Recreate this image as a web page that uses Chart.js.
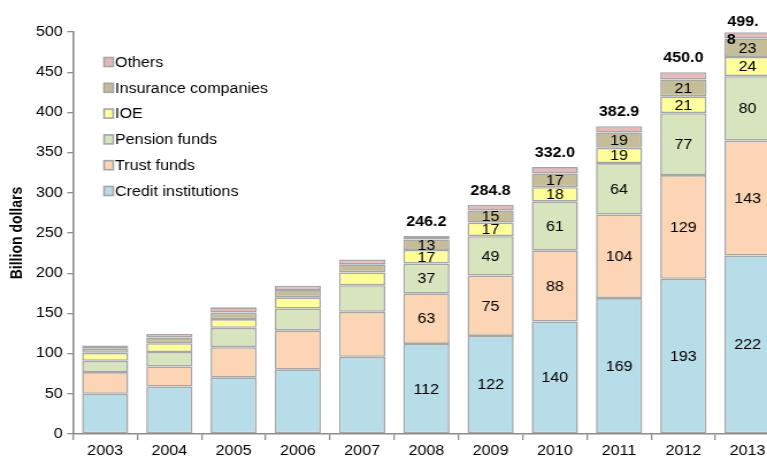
<!DOCTYPE html>
<html>
<head>
<meta charset="utf-8">
<script src="https://cdn.jsdelivr.net/npm/chart.js@4.4.1/dist/chart.umd.min.js"></script>
<style>
html,body{margin:0;padding:0;overflow:hidden;background:#fff;width:767px;height:460px;}
#wrap{position:absolute;left:0;top:0;width:683px;height:460px;transform:scaleX(1.15);transform-origin:0 0;}
</style>
</head>
<body>
<div id="wrap"><canvas id="c" width="683" height="460"></canvas></div>
<script>
const years = ['2003','2004','2005','2006','2007','2008','2009','2010','2011','2012','2013'];
const creditInstitutions = [50, 59, 70, 80, 96, 112, 122, 140, 169, 193, 222];
const trustFunds         = [27, 25, 38, 49, 56, 63, 75, 88, 104, 129, 143];
const pensionFunds       = [14, 18, 24, 27, 33, 37, 49, 61, 64, 77, 80];
const ioe                = [10, 11, 11, 14, 16, 17, 17, 18, 19, 21, 24];
const insuranceCompanies = [5, 7, 8, 9, 10, 13, 15, 17, 19, 21, 23];
const others             = [4, 4.5, 6.5, 5.5, 6, 4.2, 6.8, 8, 7.9, 9, 7.8];
const totalLabels        = ['', '', '', '', '', '246.2', '284.8', '332.0', '382.9', '450.0', '499.8'];
const labelFromIndex = 5;

const border = '#a6a6a6';
const datasets = [
  {label:'Credit institutions', data:creditInstitutions, backgroundColor:'#b7dde8', showValues:true},
  {label:'Trust funds', data:trustFunds, backgroundColor:'#fcd5b4', showValues:true},
  {label:'Pension funds', data:pensionFunds, backgroundColor:'#d7e4bd', showValues:true},
  {label:'IOE', data:ioe, backgroundColor:'#ffff99', showValues:true},
  {label:'Insurance companies', data:insuranceCompanies, backgroundColor:'#c4bd97', showValues:true},
  {label:'Others', data:others, backgroundColor:'#e6b9b8', showValues:false}
].map(d => Object.assign(d, {borderColor:border, borderWidth:1.6, borderSkipped:false, barPercentage:0.72, categoryPercentage:1.0}));

const FONT = '"Liberation Sans", Arial, sans-serif';

const valuePlugin = {
  id:'values',
  afterDatasetsDraw(chart){
    const ctx = chart.ctx;
    ctx.save();
    ctx.textAlign='center';
    ctx.textBaseline='middle';
    ctx.fillStyle='#000';
    ctx.font = '14px ' + FONT;
    chart.data.datasets.forEach((ds, i) => {
      if(!ds.showValues) return;
      const meta = chart.getDatasetMeta(i);
      meta.data.forEach((bar, j) => {
        if (j < labelFromIndex) return;
        const cy = (bar.y + bar.base)/2;
        ctx.fillText(String(Math.round(ds.data[j])), bar.x, cy + 1);
      });
    });
    ctx.font = 'bold 14px ' + FONT;
    const topMeta = chart.getDatasetMeta(chart.data.datasets.length-1);
    topMeta.data.forEach((bar, j) => {
      const t = totalLabels[j];
      if(!t) return;
      if (bar.y < 45) {
        // label wraps in the original: "499." above, "8" at the top-left of the bar
        const cut = t.length - 1;
        ctx.textAlign='center';
        ctx.fillText(t.slice(0, cut), bar.x - 4, bar.y - 10);
        ctx.textAlign='left';
        ctx.fillText(t.slice(cut), bar.x - bar.width/2 + 2, bar.y + 8);
        ctx.textAlign='center';
      } else {
        ctx.fillText(t, bar.x, bar.y - 14);
      }
    });
    ctx.restore();
  }
};

const legendPlugin = {
  id:'customLegend',
  afterDraw(chart){
    const ctx = chart.ctx;
    ctx.save();
    ctx.font = '14px ' + FONT;
    ctx.textBaseline='middle';
    ctx.textAlign='left';
    const items = chart.data.datasets.slice().reverse();
    const x = 90.5, y0 = 62, step = 25.8;
    items.forEach((ds, k) => {
      const y = y0 + k*step;
      ctx.fillStyle = ds.backgroundColor;
      ctx.fillRect(x, y-4.5, 8, 9);
      ctx.strokeStyle = border;
      ctx.lineWidth = 1.6;
      ctx.strokeRect(x, y-4.5, 8, 9);
      ctx.fillStyle = '#000';
      ctx.fillText(ds.label, x + 9.5, y + 1);
    });
    ctx.restore();
  }
};

new Chart(document.getElementById('c'), {
  type:'bar',
  data:{labels:years, datasets},
  options:{
    responsive:false,
    animation:false,
    devicePixelRatio:1,
    layout:{padding:{top:32, right:5, left:0, bottom:0}},
    plugins:{legend:{display:false}, tooltip:{enabled:false}},
    scales:{
      x:{
        stacked:true,
        grid:{display:true, drawOnChartArea:false, color:'#8c8c8c', tickLength:6, offset:true, lineWidth:1.3},
        border:{display:true, color:'#8c8c8c', width:1.6},
        ticks:{color:'#000', font:{family:FONT, size:14}, padding:3, maxRotation:0},
        afterFit(s){ s.height = 26; }
      },
      y:{
        stacked:true,
        min:0, max:500,
        grid:{display:true, drawOnChartArea:false, color:'#8c8c8c', tickLength:5, lineWidth:1.3},
        border:{display:true, color:'#8c8c8c', width:1.6},
        ticks:{stepSize:50, color:'#000', font:{family:FONT, size:14}, padding:4},
        title:{display:true, text:'Billion dollars', color:'#000', font:{family:FONT, size:14, weight:'bold'}, padding:{top:7,bottom:0}},
        afterFit(s){ s.width = 63.5; }
      }
    }
  },
  plugins:[valuePlugin, legendPlugin]
});
</script>
</body>
</html>
